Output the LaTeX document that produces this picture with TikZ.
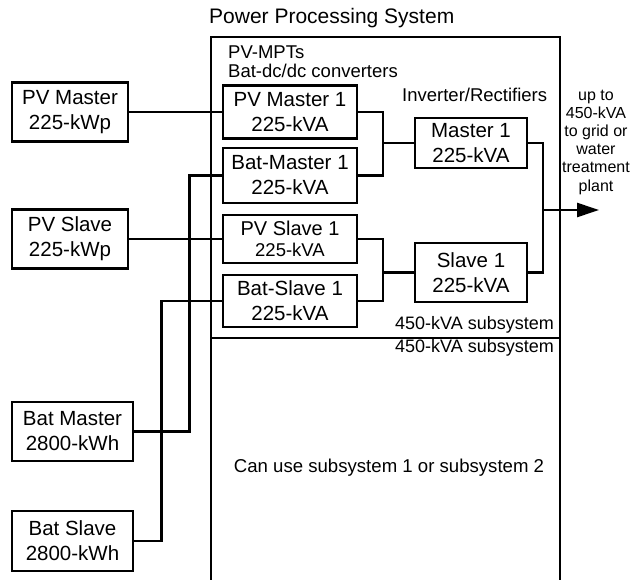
\documentclass[tikz,border=0pt]{standalone}
\usepackage{fontspec}
\setmainfont{Liberation Sans}
\usetikzlibrary{arrows.meta}
\tikzset{
  lw/.style={line width=2.6pt},
  blk/.style={draw, lw, inner sep=0pt, align=center, font=\fontsize{20.5}{25}\selectfont},
  wire/.style={lw, line join=miter},
  lbl/.style={inner sep=0pt, font=\fontsize{18.5}{22}\selectfont},
}
\begin{document}
\begin{tikzpicture}[x=1pt,y=-1pt]
\fill[white] (0,0) rectangle (634,580);
\useasboundingbox (0,0) rectangle (634,580);

% outer system frame
\draw[lw] (211,580) -- (211,37) -- (560,37) -- (560,580);
\draw[lw] (211,338) -- (560,338);

% texts
\node[inner sep=0pt, anchor=west, font=\fontsize{21}{25}\selectfont] (title) at (209,18) {Power Processing System};
\node[lbl, anchor=west] (mpt) at (228,52) {PV-MPTs};
\node[lbl, anchor=west] (dcdc) at (228,71) {Bat-dc/dc converters};
\node[lbl, anchor=west] (inv) at (402,95) {Inverter/Rectifiers};
\node[inner sep=0pt, align=center, font=\fontsize{16}{18.2}\selectfont] (dest) at (596,142) {up to\\450-kVA\\to grid or\\water\\treatment\\plant};
\node[lbl, anchor=east, font=\fontsize{18}{22}\selectfont] (sub1) at (554,325) {450-kVA subsystem};
\node[lbl, anchor=east, font=\fontsize{18}{22}\selectfont] (sub2) at (554,348) {450-kVA subsystem};
\node[lbl, font=\fontsize{18.6}{22}\selectfont] (canuse) at (389,468) {Can use subsystem 1 or subsystem 2};

% sources
\node[blk, minimum width=116pt, minimum height=59pt] (pvm) at (70,112) {PV Master\\225-kWp};
\node[blk, minimum width=116pt, minimum height=59pt] (pvs) at (70,239) {PV Slave\\225-kWp};
\node[blk, minimum width=121pt, minimum height=59pt] (bm) at (72.5,431.5) {Bat Master\\2800-kWh};
\node[blk, minimum width=121pt, minimum height=60pt] (bs) at (72.5,541) {Bat Slave\\2800-kWh};

% converters
\node[blk, minimum width=134pt, minimum height=53pt] (pvm1) at (290,112) {PV Master 1\\225-kVA};
\node[blk, minimum width=134pt, minimum height=55pt] (bm1) at (290,175.5) {Bat-Master 1\\225-kVA};
\node[blk, minimum width=134pt, minimum height=48pt, font=\fontsize{20}{21}\selectfont] (pvs1) at (290,239) {PV Slave 1\\\fontsize{18.5}{21}\selectfont 225-kVA};
\node[blk, minimum width=134pt, minimum height=52pt] (bs1) at (290,301) {Bat-Slave 1\\225-kVA};

% inverters
\node[blk, minimum width=112pt, minimum height=50pt] (m1) at (471,143) {Master 1\\225-kVA};
\node[blk, minimum width=112pt, minimum height=59pt] (s1) at (471,272.5) {Slave 1\\225-kVA};

% wiring
\draw[wire] (pvm.east) -- (pvm1.west);
\draw[wire] (pvs.east) -- (pvs1.west);
\draw[wire] (bm.east) -- ++(55,0) |- (bm1.west);
\draw[wire] (bs.east) -- ++(27,0) |- (bs1.west);

\coordinate (jm) at (383,143);
\draw[wire] (pvm1.east) -| (jm) |- (bm1.east);
\draw[wire] (jm) -- (m1.west);

\coordinate (js) at (383,272.5);
\draw[wire] (pvs1.east) -| (js) |- (bs1.east);
\draw[wire] (js) -- (s1.west);

\coordinate (jo) at (543,210);
\draw[wire] (m1.east) -| (jo) |- (s1.east);
\coordinate (out) at (599,210);
\draw[wire, -{Triangle[length=22pt,width=14pt]}] (jo) -- (out);
\end{tikzpicture}
\end{document}
